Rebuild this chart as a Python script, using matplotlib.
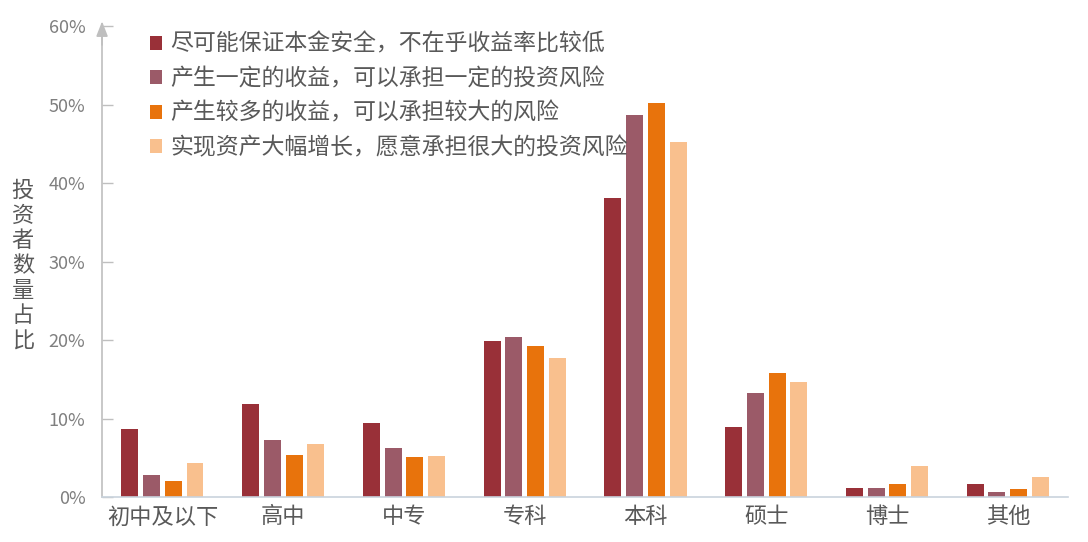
import matplotlib
matplotlib.use("Agg")
import matplotlib.pyplot as plt
import numpy as np
from matplotlib.patches import Patch

plt.rcParams['font.family'] = ['Noto Sans CJK SC', 'DejaVu Sans']

categories = ["初中及以下", "高中", "中专", "专科", "本科", "硕士", "博士", "其他"]
series_names = [
    "尽可能保证本金安全，不在乎收益率比较低",
    "产生一定的收益，可以承担一定的投资风险",
    "产生较多的收益，可以承担较大的风险",
    "实现资产大幅增长，愿意承担很大的投资风险",
]
safe_first = [8.7, 11.8, 9.4, 19.9, 38.1, 8.9, 1.2, 1.7]
some_risk = [2.8, 7.3, 6.2, 20.4, 48.7, 13.3, 1.2, 0.7]
more_risk = [2.0, 5.3, 5.1, 19.2, 50.2, 15.8, 1.7, 1.0]
high_risk = [4.3, 6.7, 5.2, 17.7, 45.2, 14.7, 3.9, 2.5]
y_ticks = [0, 10, 20, 30, 40, 50, 60]
y_label = "投资者数量占比"

colors = ["#993038", "#9B5A68", "#E8730C", "#F9C08E"]
text_gray = "#595959"
axis_gray = "#BFBFBF"

fig = plt.figure(figsize=(10.88, 5.42), dpi=100)
ax = fig.add_axes([0.0938, 0.083, 0.888, 0.869])

x = np.arange(len(categories))
pitch = 0.18
width = 0.14
all_series = [safe_first, some_risk, more_risk, high_risk]
for i, (vals, col) in enumerate(zip(all_series, colors)):
    ax.bar(x + (i - 1.5) * pitch, vals, width=width, color=col, zorder=2)

ax.set_xlim(-0.5, len(categories) - 0.5)
ax.set_ylim(0, 60)
ax.set_yticks(y_ticks)
ax.set_yticklabels([f"{t}%" for t in y_ticks])
ax.set_xticks(x)
ax.set_xticklabels(categories)

for s in ["top", "right"]:
    ax.spines[s].set_visible(False)
ax.spines["left"].set_color(axis_gray)
ax.spines["left"].set_linewidth(1.2)
ax.spines["bottom"].set_color("#C9D3DD")
ax.spines["bottom"].set_linewidth(1.2)

ax.tick_params(axis="y", direction="in", length=8, width=1, color=axis_gray,
               labelsize=13, labelcolor="#7F7F7F", pad=12)
ax.tick_params(axis="x", length=0, labelsize=16, labelcolor=text_gray, pad=6)

# arrow head at top of the y axis
ax.annotate("", xy=(0, 1.01), xycoords="axes fraction",
            xytext=(0, 0.96), textcoords="axes fraction",
            arrowprops=dict(arrowstyle="-|>,head_length=0.9,head_width=0.35",
                            color=axis_gray, lw=1.2, shrinkA=0, shrinkB=0),
            annotation_clip=False)

# vertical, stacked y-axis label
fig.text(0.021, 0.51, "\n".join(y_label), ha="center", va="center",
         fontsize=16, color=text_gray, linespacing=1.12)

handles = [Patch(facecolor=c, edgecolor="none") for c in colors]
leg = ax.legend(handles, series_names, loc="upper left",
                bbox_to_anchor=(0.04, 1.005), frameon=False,
                fontsize=16.5, labelcolor=text_gray,
                handlelength=0.55, handleheight=0.55, handletextpad=0.35,
                labelspacing=0.5, borderaxespad=0)

fig.savefig("out.png", dpi=100, facecolor="white")
